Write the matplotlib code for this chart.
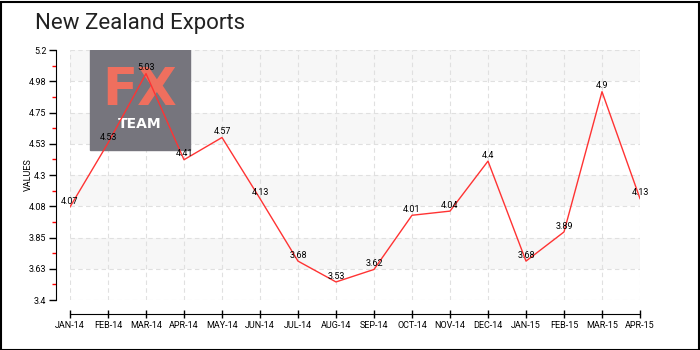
import matplotlib
matplotlib.use('Agg')
import matplotlib.pyplot as plt
from matplotlib.patches import Rectangle
from matplotlib.ticker import FixedLocator

# monthly export values
months = ['JAN-14', 'FEB-14', 'MAR-14', 'APR-14', 'MAY-14', 'JUN-14',
          'JUL-14', 'AUG-14', 'SEP-14', 'OCT-14', 'NOV-14', 'DEC-14',
          'JAN-15', 'FEB-15', 'MAR-15', 'APR-15']
values = [4.07, 4.53, 5.03, 4.41, 4.57, 4.13, 3.68, 3.53,
          3.62, 4.01, 4.04, 4.4, 3.68, 3.89, 4.9, 4.13]
ymin, ymax = 3.4, 5.2
yticks = [3.4, 3.625, 3.85, 4.075, 4.3, 4.525, 4.75, 4.975, 5.2]
ylabels = ['3.4', '3.63', '3.85', '4.08', '4.3', '4.53', '4.75', '4.98', '5.2']

plt.rcParams['font.family'] = ['Roboto', 'DejaVu Sans']

fig = plt.figure(figsize=(7, 3.5), dpi=100)
ax = fig.add_axes([70 / 700, 50 / 350, 570 / 700, 250 / 350])

# alternating grey bands
for i in range(1, len(yticks) - 1, 2):
    ax.axhspan(yticks[i], yticks[i + 1], color='#f7f7f7', lw=0, zorder=0)

x = list(range(len(months)))
ax.set_xlim(0, len(months) - 1)
ax.set_ylim(ymin, ymax)

ax.grid(True, color='#e0e0e0', linestyle=(0, (4, 3)), linewidth=0.8)
ax.set_axisbelow(True)

# logo box
ax.add_patch(Rectangle((90 / 700, 200 / 350), 100 / 700, 100 / 350,
                       transform=fig.transFigure, color='#76757d', zorder=2))
ax.text(140 / 700, 259 / 350, 'FX', color='#ef6f5e', fontsize=37,
        fontweight='bold', family='DejaVu Sans', ha='center', va='center',
        transform=fig.transFigure, zorder=3)
ax.text(140 / 700, 226 / 350, 'TEAM', color='white', fontsize=10,
        fontweight='bold', family='DejaVu Sans', ha='center', va='center',
        transform=fig.transFigure, zorder=3)

ax.plot(x, values, color='#ff3333', linewidth=1, zorder=4)
for xi, v in zip(x, values):
    ax.annotate('{:g}'.format(v), (xi, v), xytext=(0, 1),
                textcoords='offset points', ha='center', va='bottom',
                fontsize=6.5, zorder=5)

# axes styling
for side in ('top', 'right'):
    ax.spines[side].set_visible(False)
ax.spines['left'].set_position(('outward', 10))
ax.spines['bottom'].set_position(('outward', 10))
ax.set_xticks(x)
ax.set_xticklabels(months, fontsize=6.5)
ax.set_yticks(yticks)
ax.set_yticklabels(ylabels, fontsize=6.5)
ax.yaxis.set_minor_locator(FixedLocator(
    [(yticks[i] + yticks[i + 1]) / 2 for i in range(len(yticks) - 1)]))
ax.tick_params(axis='y', which='major', direction='out', length=5, width=1,
               pad=2)
ax.tick_params(axis='y', which='minor', direction='out', length=3, width=1,
               color='red')
ax.tick_params(axis='x', direction='inout', length=6, width=1, pad=2)
ax.set_ylabel('VALUES', fontsize=6.5)
ax.yaxis.set_label_coords(-37 / 570, 0.5)

fig.text(35 / 700, 326 / 350, 'New Zealand Exports', fontsize=16,
         va='center', ha='left', color='#222222')

# outer frame
fig.add_artist(Rectangle((0.5 / 700, 0.5 / 350), 698 / 700, 348 / 350,
                         transform=fig.transFigure, fill=False,
                         edgecolor='black', linewidth=1.5))

fig.savefig('out.png', dpi=100)
